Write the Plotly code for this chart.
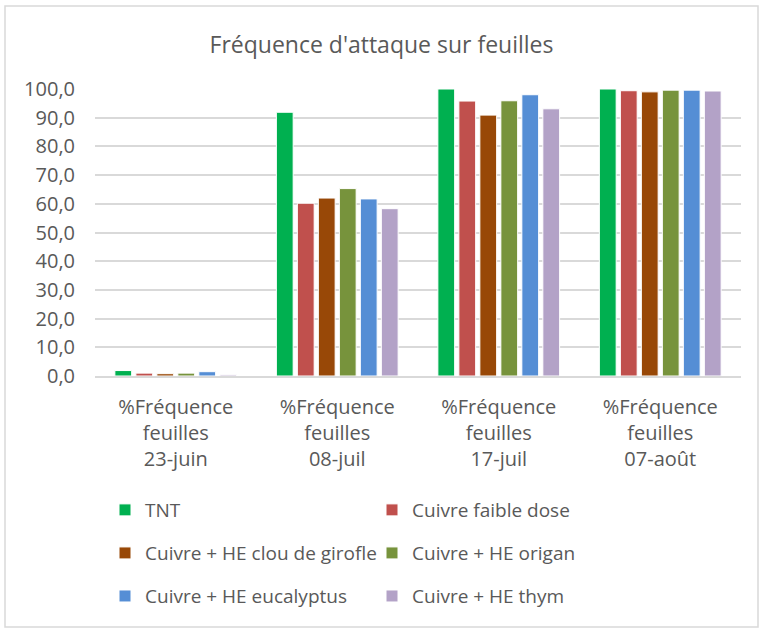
import plotly.graph_objects as go

# categories on x axis
dates = ["%Fréquence<br>feuilles<br>23-juin", "%Fréquence<br>feuilles<br>08-juil",
         "%Fréquence<br>feuilles<br>17-juil", "%Fréquence<br>feuilles<br>07-août"]

# series
tnt = [1.9, 91.9, 100.0, 100.0]
cuivre_faible = [1.0, 60.2, 95.8, 99.4]
cuivre_clou = [0.8, 62.0, 90.9, 99.0]
cuivre_origan = [1.0, 65.3, 95.9, 99.6]
cuivre_eucalyptus = [1.5, 61.7, 98.0, 99.6]
cuivre_thym = [0.4, 58.3, 93.1, 99.3]

names = ["TNT", "Cuivre faible dose", "Cuivre + HE clou de girofle",
         "Cuivre + HE origan", "Cuivre + HE eucalyptus", "Cuivre + HE thym"]
series = [tnt, cuivre_faible, cuivre_clou, cuivre_origan, cuivre_eucalyptus, cuivre_thym]
colors = ["#00B050", "#C0504D", "#984807", "#77933C", "#558ED5", "#B3A2C7"]
# legend rows (2 entries per row)
legend_ids = ["legend", "legend", "legend2", "legend2", "legend3", "legend3"]

txt = "#595959"
fnt = "Open Sans, Noto Sans, sans-serif"

fig = go.Figure()
for i in range(len(series)):
    fig.add_trace(go.Bar(
        x=dates, y=series[i], name=names[i], legend=legend_ids[i],
        marker=dict(color=colors[i], line=dict(color="white", width=1))))

def leg(y):
    return dict(orientation="h", x=0.0155, xanchor="left", y=y, yanchor="middle",
                entrywidth=222, entrywidthmode="pixels", traceorder="normal",
                font=dict(size=19, color=txt), bgcolor="rgba(0,0,0,0)")

fig.update_layout(
    width=763, height=629,
    paper_bgcolor="white", plot_bgcolor="white",
    margin=dict(l=95, r=22, t=89, b=253),
    separators=", ",
    font=dict(family=fnt, size=19, color=txt),
    title=dict(text="Fréquence d'attaque sur feuilles", x=0.5, xanchor="center",
               y=1 - 45 / 629, yanchor="middle", font=dict(size=23, color=txt)),
    barmode="group", bargap=0.22, bargroupgap=0.2,
    showlegend=True,
    legend=leg(-0.467), legend2=leg(-0.617), legend3=leg(-0.767),
    shapes=[dict(type="rect", xref="paper", yref="paper",
                 x0=(5 - 95) / 646, x1=(758 - 95) / 646,
                 y0=(376 - 627) / 287, y1=(376 - 6) / 287,
                 line=dict(color="#D9D9D9", width=1.5))],
)
fig.update_yaxes(range=[0, 100], dtick=10, tickformat=".1f", showgrid=True,
                 gridcolor="#D9D9D9", gridwidth=1.5, zeroline=False,
                 ticks="", ticklabelstandoff=19, tickfont=dict(size=20, color=txt))
fig.update_xaxes(showline=True, linecolor="#D9D9D9", linewidth=1.5, ticks="",
                 ticklabelstandoff=12, tickfont=dict(size=20, color=txt))

fig.write_html("out.html", config={"displayModeBar": False},
               post_script="document.body.style.margin='0';")
